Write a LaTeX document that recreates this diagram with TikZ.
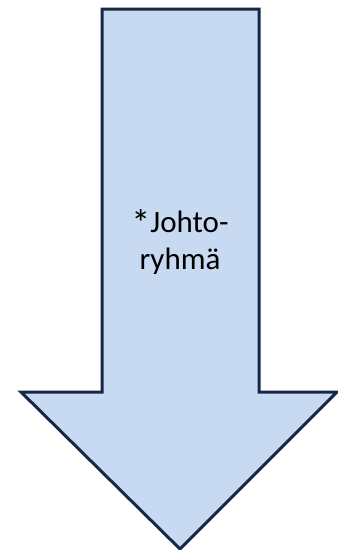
\documentclass[tikz,border=0pt]{standalone}
\usepackage{fontspec}
\setmainfont{Carlito}
\definecolor{arrowfill}{RGB}{200,218,242}
\definecolor{arrowline}{RGB}{22,40,72}

\begin{document}
\begin{tikzpicture}[x=1pt,y=-1pt]
        \useasboundingbox (0,0) rectangle (338,550);
        \filldraw [fill=arrowfill, draw=arrowline, line width=3pt, line join=miter]
                  (102,9) -- (259,9) -- (259,392) -- (337,392)
                  -- (180,549) -- (21,392) -- (102,392) -- cycle;
        \node (label) [align=center, font=\fontsize{31}{37}\selectfont] at (180,242)
              {\raisebox{-0.12em}{\fontsize{38}{37}\selectfont*}Johto-\\ryhmä};
    \end{tikzpicture}
\end{document}
